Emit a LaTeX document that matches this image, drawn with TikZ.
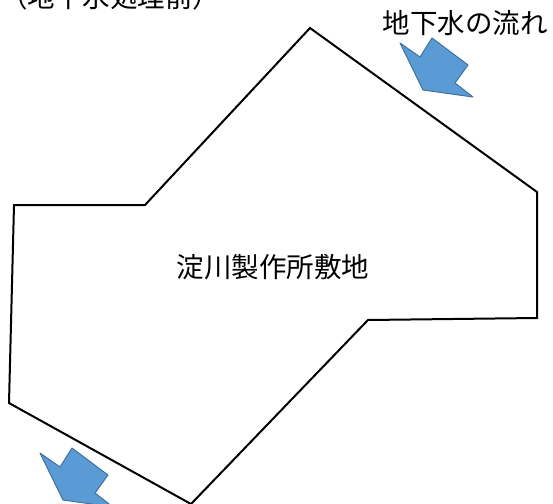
\documentclass[tikz,border=0pt]{standalone}
\usepackage{fontspec}
\newfontfamily\jpfont{Noto Sans CJK JP}
\usetikzlibrary{positioning}
\definecolor{flowfill}{HTML}{5B9BD5}
\definecolor{flowline}{HTML}{41719C}
\tikzset{x=1pt, y=-1pt,
site/.style={ % outline of the premises
draw=black,
line width=2pt,
line join=miter},
flowarrow/.style={ % blue block arrow
fill=flowfill,
draw=flowline,
line width=1pt,
line join=round},
jplabel/.style={
font=\jpfont\fontsize{27.5}{27.5}\selectfont,
inner sep=0pt}}

\begin{document}
\begin{tikzpicture}
\useasboundingbox (0,0) rectangle (553,503);
% premises
\draw[site] (310,28) -- (537,192) -- (537,318) -- (368,320) -- (191,504)
  -- (9,403) -- (14,205) -- (145,205) -- cycle;
\node[jplabel] (site) at (273,267) {淀川製作所敷地};
% flow direction
\node[jplabel] (flow) at (465,23) {地下水の流れ};
\foreach \dx/\dy in {0/0, -360/410}
  \filldraw[flowarrow, shift={(\dx,\dy)}] (400,43) -- (420,57) -- (432,38)
    -- (468,65) -- (455,83) -- (473,97) -- (423,90) -- cycle;
% caption, cut at the top
\node[jplabel] (caption) at (110,-3) {（地下水処理前）};
\end{tikzpicture}
\end{document}
